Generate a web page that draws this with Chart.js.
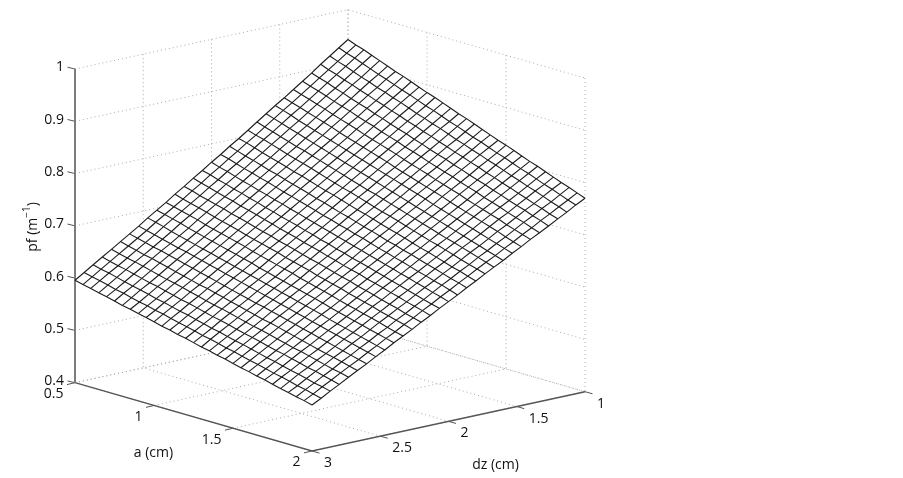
<!DOCTYPE html>
<html>
<head>
<meta charset="utf-8">
<style>
  html, body { margin: 0; padding: 0; background: #fff; }
  canvas { display: block; }
</style>
<script src="https://cdn.jsdelivr.net/npm/chart.js@4"></script>
</head>
<body>
<canvas id="myChart" width="903" height="478"></canvas>
<script>
// Axis ticks
const aTicks = [0.5, 1, 1.5, 2];
const dzTicks = [1, 1.5, 2, 2.5, 3];
const pfTicks = [0.4, 0.5, 0.6, 0.7, 0.8, 0.9, 1];
const aTickLabels = ['0.5', '1', '1.5', '2'];
const dzTickLabels = ['1', '1.5', '2', '2.5', '3'];
const pfTickLabels = ['0.4', '0.5', '0.6', '0.7', '0.8', '0.9', '1'];

// Surface samples
const aValues = [.5,.55,.6,.65,.7,.75,.8,.85,.9,.95,1,1.05,1.1,1.15,1.2,1.25,1.3,1.35,1.4,1.45,1.5,1.55,1.6,1.65,1.7,1.75,1.8,1.85,1.9,1.95,2];
const dzValues = [3,2.933,2.867,2.8,2.733,2.667,2.6,2.533,2.467,2.4,2.333,2.267,2.2,2.133,2.067,2,1.933,1.867,1.8,1.733,1.667,1.6,1.533,1.467,1.4,1.333,1.267,1.2,1.133,1.067,1];

// pf: one row per dz, one column per a
const pfValues = [
  [.596,.592,.589,.585,.582,.578,.574,.571,.567,.564,.560,.556,.553,.549,.546,.542,.538,.535,.531,.528,.524,.520,.517,.513,.510,.506,.502,.499,.495,.492,.488],
  [.607,.603,.600,.596,.592,.589,.585,.581,.578,.574,.571,.567,.563,.560,.556,.552,.549,.545,.541,.538,.534,.530,.527,.523,.519,.516,.512,.508,.505,.501,.497],
  [.618,.614,.611,.607,.603,.599,.596,.592,.588,.585,.581,.577,.574,.570,.566,.562,.559,.555,.551,.548,.544,.540,.536,.533,.529,.525,.522,.518,.514,.511,.507],
  [.629,.625,.621,.618,.614,.610,.606,.603,.599,.595,.591,.588,.584,.580,.576,.573,.569,.565,.561,.558,.554,.550,.546,.543,.539,.535,.531,.528,.524,.520,.516],
  [.640,.636,.632,.629,.625,.621,.617,.613,.610,.606,.602,.598,.594,.590,.587,.583,.579,.575,.571,.568,.564,.560,.556,.552,.549,.545,.541,.537,.533,.530,.526],
  [.651,.647,.643,.639,.636,.632,.628,.624,.620,.616,.612,.609,.605,.601,.597,.593,.589,.585,.581,.578,.574,.570,.566,.562,.558,.554,.550,.547,.543,.539,.535],
  [.662,.658,.654,.650,.647,.643,.639,.635,.631,.627,.623,.619,.615,.611,.607,.603,.599,.596,.592,.588,.584,.580,.576,.572,.568,.564,.560,.556,.552,.548,.544],
  [.673,.669,.665,.661,.657,.653,.650,.646,.642,.638,.634,.630,.626,.622,.618,.614,.610,.606,.602,.598,.594,.590,.586,.582,.578,.574,.570,.566,.562,.558,.554],
  [.685,.681,.677,.672,.668,.664,.660,.656,.652,.648,.644,.640,.636,.632,.628,.624,.620,.616,.612,.608,.604,.600,.596,.591,.587,.583,.579,.575,.571,.567,.563],
  [.696,.692,.688,.684,.679,.675,.671,.667,.663,.659,.655,.651,.647,.642,.638,.634,.630,.626,.622,.618,.614,.610,.605,.601,.597,.593,.589,.585,.581,.577,.573],
  [.707,.703,.699,.695,.691,.686,.682,.678,.674,.670,.666,.661,.657,.653,.649,.645,.641,.636,.632,.628,.624,.620,.615,.611,.607,.603,.599,.595,.590,.586,.582],
  [.719,.714,.710,.706,.702,.697,.693,.689,.685,.680,.676,.672,.668,.664,.659,.655,.651,.647,.642,.638,.634,.630,.625,.621,.617,.613,.608,.604,.600,.596,.591],
  [.730,.726,.721,.717,.713,.709,.704,.700,.696,.691,.687,.683,.678,.674,.670,.665,.661,.657,.653,.648,.644,.640,.635,.631,.627,.622,.618,.614,.609,.605,.601],
  [.742,.737,.733,.728,.724,.720,.715,.711,.707,.702,.698,.693,.689,.685,.680,.676,.672,.667,.663,.658,.654,.650,.645,.641,.637,.632,.628,.623,.619,.615,.610],
  [.753,.749,.744,.740,.735,.731,.726,.722,.717,.713,.708,.704,.700,.695,.691,.686,.682,.677,.673,.668,.664,.660,.655,.651,.646,.642,.637,.633,.628,.624,.620],
  [.765,.760,.756,.751,.746,.742,.737,.733,.728,.724,.719,.715,.710,.706,.701,.697,.692,.688,.683,.679,.674,.670,.665,.661,.656,.652,.647,.643,.638,.634,.629],
  [.776,.772,.767,.762,.758,.753,.749,.744,.739,.735,.730,.726,.721,.716,.712,.707,.703,.698,.694,.689,.684,.680,.675,.671,.666,.661,.657,.652,.648,.643,.638],
  [.788,.783,.778,.774,.769,.764,.760,.755,.750,.746,.741,.736,.732,.727,.722,.718,.713,.708,.704,.699,.694,.690,.685,.681,.676,.671,.667,.662,.657,.653,.648],
  [.799,.795,.790,.785,.780,.776,.771,.766,.762,.757,.752,.747,.743,.738,.733,.728,.724,.719,.714,.709,.705,.700,.695,.690,.686,.681,.676,.671,.667,.662,.657],
  [.811,.806,.802,.797,.792,.787,.782,.778,.773,.768,.763,.758,.753,.749,.744,.739,.734,.729,.725,.720,.715,.710,.705,.700,.696,.691,.686,.681,.676,.672,.667],
  [.823,.818,.813,.808,.803,.798,.794,.789,.784,.779,.774,.769,.764,.759,.754,.750,.745,.740,.735,.730,.725,.720,.715,.710,.705,.701,.696,.691,.686,.681,.676],
  [.835,.830,.825,.820,.815,.810,.805,.800,.795,.790,.785,.780,.775,.770,.765,.760,.755,.750,.745,.740,.735,.730,.725,.720,.715,.710,.705,.700,.695,.690,.685],
  [.847,.842,.837,.831,.826,.821,.816,.811,.806,.801,.796,.791,.786,.781,.776,.771,.766,.761,.756,.751,.745,.740,.735,.730,.725,.720,.715,.710,.705,.700,.695],
  [.858,.853,.848,.843,.838,.833,.828,.822,.817,.812,.807,.802,.797,.792,.786,.781,.776,.771,.766,.761,.756,.750,.745,.740,.735,.730,.725,.720,.714,.709,.704],
  [.870,.865,.860,.855,.850,.844,.839,.834,.829,.823,.818,.813,.808,.803,.797,.792,.787,.782,.776,.771,.766,.761,.755,.750,.745,.740,.735,.729,.724,.719,.714],
  [.882,.877,.872,.867,.861,.856,.851,.845,.840,.835,.829,.824,.819,.813,.808,.803,.797,.792,.787,.782,.776,.771,.766,.760,.755,.750,.744,.739,.734,.728,.723],
  [.894,.889,.884,.878,.873,.867,.862,.857,.851,.846,.840,.835,.830,.824,.819,.813,.808,.803,.797,.792,.786,.781,.776,.770,.765,.759,.754,.749,.743,.738,.732],
  [.907,.901,.896,.890,.885,.879,.874,.868,.863,.857,.852,.846,.841,.835,.830,.824,.819,.813,.808,.802,.797,.791,.786,.780,.775,.769,.764,.758,.753,.747,.742],
  [.919,.913,.908,.902,.896,.891,.885,.880,.874,.869,.863,.857,.852,.846,.841,.835,.829,.824,.818,.813,.807,.802,.796,.790,.785,.779,.774,.768,.762,.757,.751],
  [.931,.925,.920,.914,.908,.902,.897,.891,.885,.880,.874,.868,.863,.857,.851,.846,.840,.834,.829,.823,.817,.812,.806,.800,.795,.789,.783,.778,.772,.766,.761],
  [.943,.937,.932,.926,.920,.914,.908,.903,.897,.891,.885,.880,.874,.868,.862,.857,.851,.845,.839,.833,.828,.822,.816,.810,.805,.799,.793,.787,.782,.776,.770]
];

const FONT = '"Open Sans", sans-serif';
const TEXT_COLOR = '#111111';

// 3D -> screen. Box corners measured on the reference
function project(a, dz, pf) {
  const u = (a - 0.5) / 1.5;
  const v = (3 - dz) / 2;
  const w = (pf - 0.4) / 0.6;
  return { x: 75 + 237 * u + 273 * v, y: 382.7 + 68.3 * u - 59.3 * v - 313.7 * w };
}

const datasets = [];

function addLine(points, style) {
  datasets.push(Object.assign({
    data: points, showLine: true, pointRadius: 0, tension: 0, fill: false
  }, style));
}

// Dotted box grid (drawn first)
const gridStyle = { borderColor: '#aaaaaa', borderWidth: 1, borderDash: [1, 3], order: 5 };
const pfMin = pfTicks[0], pfMax = pfTicks[pfTicks.length - 1];
pfTicks.forEach(pf => {
  addLine([project(0.5, 3, pf), project(0.5, 1, pf), project(2, 1, pf)], gridStyle);
});
dzTicks.forEach(dz => {
  // wall a = 0.5 and floor
  addLine([project(0.5, dz, pfMax), project(0.5, dz, pfMin), project(2, dz, pfMin)], gridStyle);
});
aTicks.forEach(a => {
  addLine([project(a, 1, pfMax), project(a, 1, pfMin), project(a, 3, pfMin)], gridStyle);
});

// Solid axes
const axisStyle = { borderColor: '#555555', borderWidth: 1.4, order: 4 };
addLine([project(0.5, 3, pfMin), project(0.5, 3, pfMax)], { borderColor: '#777777', borderWidth: 1.9, order: 4 });
addLine([project(0.5, 3, pfMin), project(2, 3, pfMin), project(2, 1, pfMin)], axisStyle);

// Tick marks
function addTick(p, dx, dy) {
  addLine([p, { x: p.x + dx, y: p.y + dy }], { borderColor: '#555555', borderWidth: 1, order: 4 });
}
pfTicks.forEach(pf => addTick(project(0.5, 3, pf), -7.5, -1.8));
aTicks.forEach(a => addTick(project(a, 3, pfMin), -8, 1.9));
dzTicks.forEach(dz => addTick(project(2, dz, pfMin), 7.5, 2.1));

// White sheet behind the mesh hides the grid
const last = aValues.length - 1;
const outline = [];
dzValues.forEach((dz, j) => outline.push(project(aValues[0], dz, pfValues[j][0])));
aValues.forEach((a, i) => outline.push(project(a, dzValues[last], pfValues[last][i])));
dzValues.slice().reverse().forEach((dz, j) => outline.push(project(aValues[last], dz, pfValues[last - j][last])));
aValues.slice().reverse().forEach((a, i) => outline.push(project(a, dzValues[0], pfValues[0][last - i])));
addLine(outline, { borderColor: 'rgba(0,0,0,0)', borderWidth: 0, backgroundColor: '#ffffff', fill: 'shape', order: 2 });

// Mesh
const meshStyle = { borderColor: '#1c1c1c', borderWidth: 1.1, order: 1 };
dzValues.forEach((dz, j) => {
  addLine(aValues.map((a, i) => project(a, dz, pfValues[j][i])), meshStyle);
});
aValues.forEach((a, i) => {
  addLine(dzValues.map((dz, j) => project(a, dz, pfValues[j][i])), meshStyle);
});

// Tick labels and axis titles
const axisText = {
  id: 'axisText',
  afterDraw(chart) {
    const c = chart.ctx;
    c.save();
    c.fillStyle = TEXT_COLOR;
    c.font = '14px ' + FONT;
    c.textBaseline = 'middle';

    c.textAlign = 'right';
    pfTicks.forEach((pf, i) => {
      const p = project(0.5, 3, pf);
      c.fillText(pfTickLabels[i], p.x - 11, p.y - 1.5);
    });
    aTicks.forEach((a, i) => {
      const p = project(a, 3, pfMin);
      c.fillText(aTickLabels[i], p.x - 11.5, p.y + 11.5);
    });
    c.textAlign = 'left';
    dzTicks.forEach((dz, i) => {
      const p = project(2, dz, pfMin);
      c.fillText(dzTickLabels[i], p.x + 12, p.y + 12);
    });

    c.textAlign = 'center';
    c.fillText('a (cm)', 153.5, 453);
    c.fillText('dz (cm)', 495.5, 465);

    // pf (m^-1), rotated, the exponent drawn smaller
    c.translate(33, 227);
    c.rotate(-Math.PI / 2);
    const head = 'pf (m', exp = '\u22121', tail = ')';
    const headW = c.measureText(head).width;
    const tailW = c.measureText(tail).width;
    c.font = '10px ' + FONT;
    const expW = c.measureText(exp).width;
    let x = -(headW + expW + tailW) / 2;
    c.textAlign = 'left';
    c.font = '14px ' + FONT;
    c.fillText(head, x, 0);
    x += headW;
    c.font = '10px ' + FONT;
    c.fillText(exp, x, -6);
    x += expW;
    c.font = '14px ' + FONT;
    c.fillText(tail, x, 0);
    c.restore();
  }
};

const ctx = document.getElementById('myChart').getContext('2d');
new Chart(ctx, {
  type: 'scatter',
  data: { datasets: datasets },
  options: {
    responsive: false,
    animation: false,
    layout: { padding: 0 },
    plugins: { legend: { display: false }, tooltip: { enabled: false } },
    scales: {
      x: { type: 'linear', display: false, min: 0, max: 903 },
      y: { type: 'linear', display: false, min: 0, max: 478, reverse: true }
    }
  },
  plugins: [axisText]
});
</script>
</body>
</html>
